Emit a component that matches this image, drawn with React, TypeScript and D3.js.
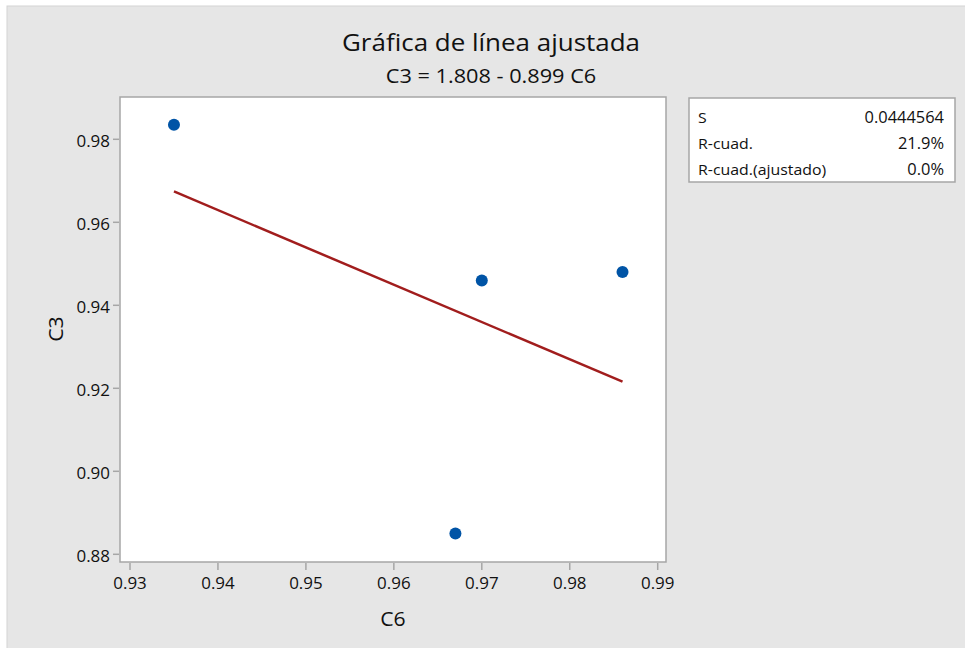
import { useEffect, useRef } from "react";
import * as d3 from "d3";

// values
const c6 = [0.935, 0.967, 0.97, 0.986];
const c3 = [0.9835, 0.885, 0.946, 0.948];
const fitIntercept = 1.808;
const fitSlope = -0.899;
const xTicks = [0.93, 0.94, 0.95, 0.96, 0.97, 0.98, 0.99];
const yTicks = [0.88, 0.9, 0.92, 0.94, 0.96, 0.98];
const statLabels = ["S", "R-cuad.", "R-cuad.(ajustado)"];
const statValues = ["0.0444564", "21.9%", "0.0%"];

const W = 965;
const H = 648;
const FONT = "'Open Sans', 'Noto Sans', sans-serif";
const INK = "#111111";

const App = () => {
  const svgRef = useRef<SVGSVGElement | null>(null);

  useEffect(() => {
    if (!svgRef.current) return;
    const svg = d3.select(svgRef.current);
    svg.selectAll("*").remove();

    const frame = { left: 120, right: 666, top: 97, bottom: 562 };
    const x = d3.scaleLinear().domain([0.93, 0.99]).range([130, 657.7]);
    const y = d3.scaleLinear().domain([0.88, 0.98]).range([554.3, 139.3]);

    // texto con un leve estiramiento horizontal, como en la captura
    const label = (
      txt: string,
      tx: number,
      ty: number,
      size: number,
      anchor = "start",
      rotate = 0
    ) =>
      svg
        .append("text")
        .text(txt)
        .attr(
          "transform",
          `translate(${tx},${ty}) rotate(${rotate}) scale(1.06,1)`
        )
        .attr("text-anchor", anchor)
        .style("font-family", FONT)
        .style("font-size", `${size}px`)
        .style("fill", INK);

    // fondo
    svg.append("rect").attr("width", W).attr("height", H).attr("fill", "#ffffff");
    svg
      .append("rect")
      .attr("x", 7)
      .attr("y", 6)
      .attr("width", W)
      .attr("height", H)
      .attr("fill", "#e6e6e6")
      .attr("stroke", "#d4d4d4");

    // titulo
    label("Gráfica de línea ajustada", 491, 51, 24.5, "middle");
    label(
      `C3 = ${fitIntercept.toFixed(3)} - ${(-fitSlope).toFixed(3)} C6`,
      491,
      83,
      20.5,
      "middle"
    );

    // area del grafico
    svg
      .append("rect")
      .attr("x", frame.left)
      .attr("y", frame.top)
      .attr("width", frame.right - frame.left)
      .attr("height", frame.bottom - frame.top)
      .attr("fill", "#ffffff")
      .attr("stroke", "#a6a6a6")
      .attr("stroke-width", 1.5);

    // ejes
    xTicks.forEach((t) => {
      svg
        .append("line")
        .attr("x1", x(t))
        .attr("x2", x(t))
        .attr("y1", frame.bottom + 1)
        .attr("y2", frame.bottom + 8)
        .attr("stroke", "#a6a6a6")
        .attr("stroke-width", 1.5);
      label(d3.format(".2f")(t), x(t), 589, 16, "middle");
    });

    yTicks.forEach((t) => {
      svg
        .append("line")
        .attr("x1", frame.left - 7)
        .attr("x2", frame.left - 1)
        .attr("y1", y(t))
        .attr("y2", y(t))
        .attr("stroke", "#a6a6a6")
        .attr("stroke-width", 1.5);
      label(d3.format(".2f")(t), 110, y(t) + 8, 16, "end");
    });

    label("C6", 393, 626, 20, "middle");
    label("C3", 63, 329, 20, "middle", -90);

    // linea ajustada
    const [x0, x1] = d3.extent(c6) as [number, number];
    const fit = d3
      .line<number>()
      .x((d) => x(d))
      .y((d) => y(fitIntercept + fitSlope * d));
    svg
      .append("path")
      .attr("d", fit([x0, x1]))
      .attr("fill", "none")
      .attr("stroke", "#a11d1d")
      .attr("stroke-width", 2.5);

    // puntos
    svg
      .append("g")
      .selectAll("circle")
      .data(c6)
      .join("circle")
      .attr("cx", (d) => x(d))
      .attr("cy", (_, i) => y(c3[i]))
      .attr("r", 6)
      .attr("fill", "#0054a6");

    // tabla de estadisticas
    const box = { left: 689, top: 98, right: 955, bottom: 182 };
    svg
      .append("rect")
      .attr("x", box.left)
      .attr("y", box.top)
      .attr("width", box.right - box.left)
      .attr("height", box.bottom - box.top)
      .attr("fill", "#ffffff")
      .attr("stroke", "#a6a6a6")
      .attr("stroke-width", 1.5);
    statLabels.forEach((s, i) => {
      const by = 123 + i * 26;
      label(s, 698, by, 15, "start");
      label(statValues[i], 944, by, 15.5, "end");
    });
  }, []);

  return (
    <svg
      ref={svgRef}
      width={W}
      height={H}
      style={{ position: "absolute", left: 0, top: 0 }}
    />
  );
};

export default App;
